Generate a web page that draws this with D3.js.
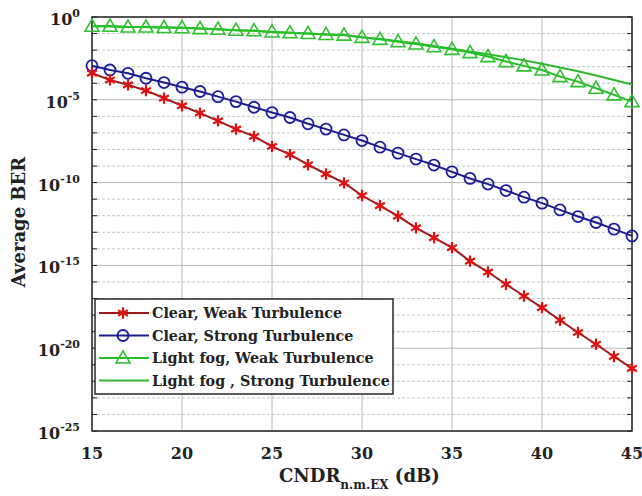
<!DOCTYPE html>
<html>
<head>
<meta charset="utf-8">
<script src="https://cdn.jsdelivr.net/npm/d3@7"></script>
<style>
  body { margin: 0; background: #fff; }
  svg { display: block; }
  text { font-family: "DejaVu Serif", "Liberation Serif", serif; font-weight: bold; fill: #222; }
</style>
</head>
<body>
<div id="chart"></div>
<script>
// CNDR (dB) values, 15..45 step 1
const cndr = [15,16,17,18,19,20,21,22,23,24,25,26,27,28,29,30,31,32,33,34,35,36,37,38,39,40,41,42,43,44,45];

// log10(BER)
const clearWeak = [-3.39,-3.80,-4.10,-4.44,-4.90,-5.36,-5.80,-6.27,-6.77,-7.21,-7.81,-8.31,-8.92,-9.48,-10.02,
  -10.78,-11.39,-12.03,-12.73,-13.33,-13.93,-14.74,-15.40,-16.14,-16.85,-17.55,-18.31,-19.05,-19.76,-20.50,-21.22];
const clearStrong = [-2.94,-3.20,-3.40,-3.70,-3.96,-4.24,-4.50,-4.81,-5.11,-5.45,-5.77,-6.07,-6.45,-6.77,-7.12,
  -7.46,-7.86,-8.22,-8.58,-8.94,-9.35,-9.75,-10.09,-10.48,-10.88,-11.24,-11.65,-12.05,-12.41,-12.81,-13.22];
const fogWeak = [-0.56,-0.56,-0.60,-0.60,-0.63,-0.65,-0.70,-0.74,-0.80,-0.83,-0.90,-0.95,-0.99,-1.05,-1.09,
  -1.23,-1.35,-1.49,-1.63,-1.79,-1.95,-2.15,-2.39,-2.69,-2.95,-3.20,-3.60,-3.90,-4.30,-4.70,-5.11];
const fogStrong = [-0.56,-0.56,-0.60,-0.60,-0.63,-0.65,-0.70,-0.74,-0.80,-0.83,-0.90,-0.95,-0.99,-1.05,-1.09,
  -1.22,-1.33,-1.46,-1.59,-1.75,-1.92,-2.08,-2.25,-2.43,-2.62,-2.82,-3.05,-3.28,-3.53,-3.80,-4.08];

const xTicks = [15, 20, 25, 30, 35, 40, 45];
const yTicks = [0, -5, -10, -15, -20, -25];

const series = [
  { name: "Clear, Weak Turbulence", vals: clearWeak, line: "#9b1b1b", mark: "#e01010", marker: "star" },
  { name: "Clear, Strong Turbulence", vals: clearStrong, line: "#1c1c8c", mark: "#1c1c9c", marker: "circle" },
  { name: "Light fog, Weak Turbulence", vals: fogWeak, line: "#22c022", mark: "#30c030", marker: "triangle" },
  { name: "Light fog , Strong Turbulence", vals: fogStrong, line: "#2eb82e", mark: null, marker: null },
];

const W = 642, H = 496;
const margin = { top: 17, right: 10, bottom: 65, left: 92 };
const iw = W - margin.left - margin.right;
const ih = H - margin.top - margin.bottom;

const svg = d3.select("#chart").append("svg").attr("width", W).attr("height", H);
const g = svg.append("g").attr("transform", `translate(${margin.left},${margin.top})`);

const x = d3.scaleLinear().domain([15, 45]).range([0, iw]);
// y domain in log10 exponent
const y = d3.scaleLinear().domain([0, -25]).range([0, ih]);

// minor dashed grid at every decade
const decades = d3.range(0, -26, -1).filter(d => d % 5 !== 0);
g.selectAll(".minor").data(decades).join("line")
  .attr("x1", 0).attr("x2", iw)
  .attr("y1", d => y(d)).attr("y2", d => y(d))
  .attr("stroke", "#c8c8c8").attr("stroke-width", 1).attr("stroke-dasharray", "3 2");

// major grid
g.selectAll(".majy").data(yTicks).join("line")
  .attr("x1", 0).attr("x2", iw)
  .attr("y1", d => y(d)).attr("y2", d => y(d))
  .attr("stroke", "#b8b8b8").attr("stroke-width", 1);
g.selectAll(".majx").data(xTicks).join("line")
  .attr("x1", d => x(d)).attr("x2", d => x(d))
  .attr("y1", 0).attr("y2", ih)
  .attr("stroke", "#b8b8b8").attr("stroke-width", 1);

// frame
g.append("rect").attr("width", iw).attr("height", ih)
  .attr("fill", "none").attr("stroke", "#262626").attr("stroke-width", 1.5);

// tick marks (inside, left and right)
const tickLen = 5;
g.selectAll(".tky").data(d3.range(0, -26, -1)).join("g").each(function (d) {
  const s = d3.select(this);
  s.append("line").attr("x1", 0).attr("x2", tickLen).attr("y1", y(d)).attr("y2", y(d)).attr("stroke", "#262626");
  s.append("line").attr("x1", iw).attr("x2", iw - tickLen).attr("y1", y(d)).attr("y2", y(d)).attr("stroke", "#262626");
});

// axis labels
const yl = g.selectAll(".ylab").data(yTicks).join("text")
  .attr("x", -12).attr("y", d => y(d) + 8)
  .attr("text-anchor", "end").attr("font-size", 16);
yl.append("tspan").text("10");
yl.append("tspan").attr("dy", -8).attr("font-size", 11).text(d => d);

g.selectAll(".xlab").data(xTicks).join("text")
  .attr("x", d => x(d)).attr("y", ih + 28)
  .attr("text-anchor", "middle").attr("font-size", 16).text(d => d);

// axis titles
const xt = svg.append("text").attr("x", 279).attr("y", 482).attr("font-size", 18);
xt.append("tspan").text("CNDR");
xt.append("tspan").attr("dy", 7).attr("font-size", 12).text("n.m.EX");
xt.append("tspan").attr("dy", -7).text(" (dB)");

svg.append("text").attr("transform", "translate(25,222) rotate(-90)")
  .attr("text-anchor", "middle").attr("font-size", 18).text("Average BER");

// lines and markers
const line = d3.line().x((d, i) => x(cndr[i])).y(d => y(d));
const star = d3.symbol().type(d3.symbolAsterisk).size(90);
const tri = d3.symbol().type(d3.symbolTriangle).size(85);

function drawMarker(sel, s, cx, cy) {
  if (s.marker === "star") {
    sel.append("path").attr("d", star()).attr("transform", `translate(${cx},${cy})`)
      .attr("stroke", s.mark).attr("stroke-width", 2.2).attr("fill", "none");
  } else if (s.marker === "circle") {
    sel.append("circle").attr("cx", cx).attr("cy", cy).attr("r", 5.5)
      .attr("stroke", s.mark).attr("stroke-width", 1.8).attr("fill", "none");
  } else if (s.marker === "triangle") {
    sel.append("path").attr("d", tri()).attr("transform", `translate(${cx},${cy + 1})`)
      .attr("stroke", s.mark).attr("stroke-width", 1.6).attr("fill", "none");
  }
}

series.slice().reverse().forEach(s => {
  g.append("path").datum(s.vals).attr("d", line)
    .attr("fill", "none").attr("stroke", s.line).attr("stroke-width", 2);
  const mg = g.append("g");
  if (s.marker) s.vals.forEach((v, i) => drawMarker(mg, s, x(cndr[i]), y(v)));
});

// legend
const lg = svg.append("g").attr("transform", "translate(95,299)");
lg.append("rect").attr("width", 298).attr("height", 95)
  .attr("fill", "#fff").attr("stroke", "#262626").attr("stroke-width", 1.5);
series.forEach((s, i) => {
  const cy = 14 + i * 22.5;
  lg.append("line").attr("x1", 4).attr("x2", 54).attr("y1", cy).attr("y2", cy)
    .attr("stroke", s.line).attr("stroke-width", 2);
  drawMarker(lg, s, 28, cy);
  lg.append("text").attr("x", 57).attr("y", cy + 5).attr("font-size", 14.3).text(s.name);
});
</script>
</body>
</html>
